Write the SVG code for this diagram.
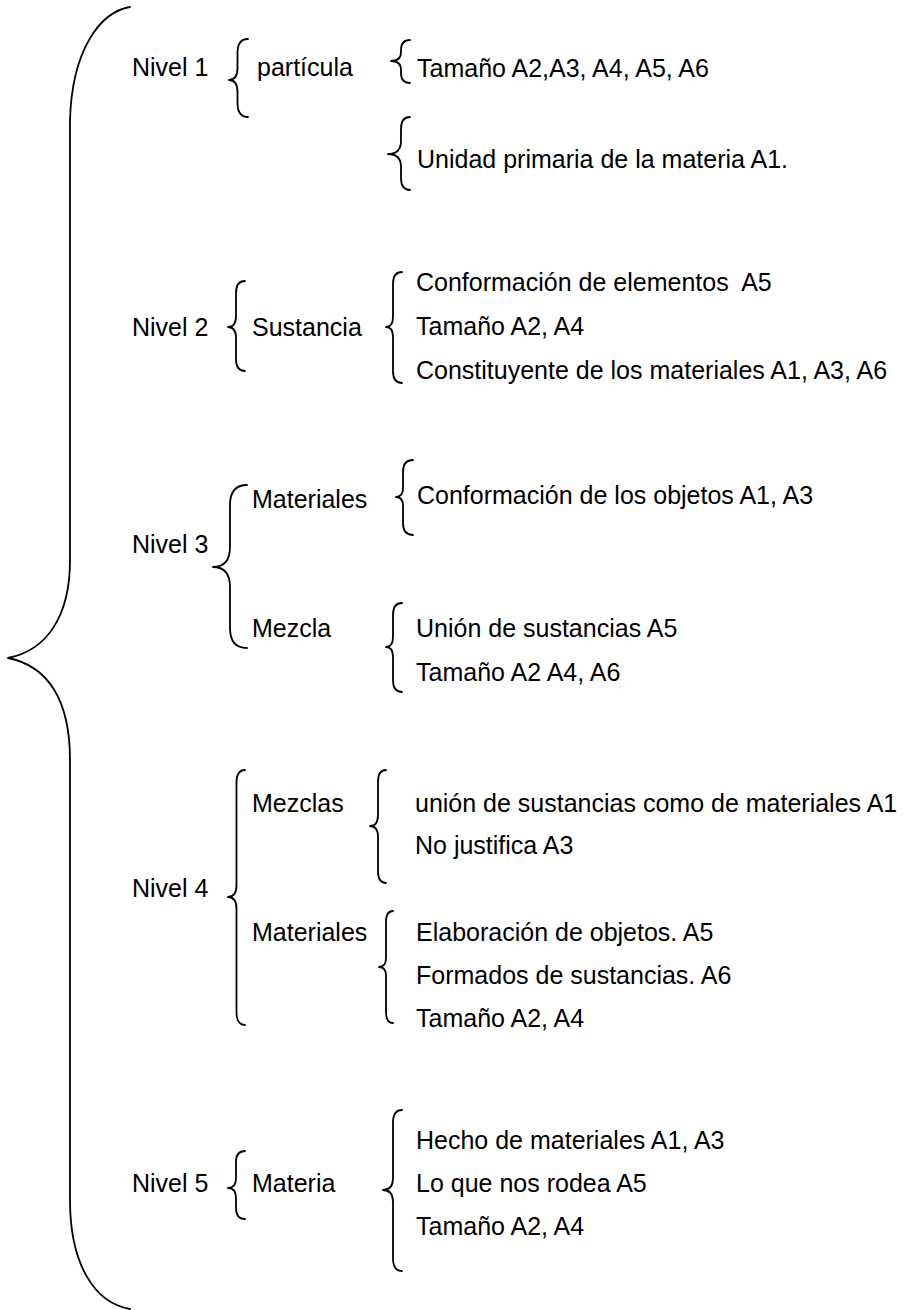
<svg xmlns="http://www.w3.org/2000/svg" width="904" height="1310" viewBox="0 0 904 1310">
<style>
text{font-family:"Liberation Sans",Arial,sans-serif;font-size:25px;fill:#000;white-space:pre}
.b{fill:none;stroke:#000;stroke-width:1.8;stroke-linecap:round;stroke-linejoin:round}
</style>
<rect width="904" height="1310" fill="#fff"/>
<g id="connectors">
<path class="b" d="M130,7 C100,12 72,50 70,120 L70,560 C70,615 48,650 8,658 C48,666 70,700 70,760 L70,1200 C70,1265 95,1303 130,1309"/>
<path class="b" d="M248,39 Q237.5,39 237.5,53 L237.5,68 Q237.5,80 229,80 Q237.5,80 237.5,92 L237.5,103 Q237.5,117 248,117"/>
<path class="b" d="M410,40 Q401,40 401,50 L401,52 Q401,61 391,61 Q401,61 401,70 L401,73 Q401,83 410,83"/>
<path class="b" d="M410,117 Q401,117 401,129 L401,141 Q401,154 388,154 Q401,154 401,167 L401,178 Q401,190 410,190"/>
<path class="b" d="M245,281 Q236,281 236,293 L236,316 Q236,327 228,327 Q236,327 236,338 L236,359 Q236,371 245,371"/>
<path class="b" d="M402,272 Q393,272 393,284 L393,317 Q393,327 386,327 Q393,327 393,337 L393,371 Q393,383 402,383"/>
<path class="b" d="M247,485 Q230,485 230,505 L230,547 Q230,567 213,567 Q230,567 230,587 L230,628 Q230,648 247,648"/>
<path class="b" d="M413,460 Q403,460 403,472 L403,488 Q403,497 396,497 Q403,497 403,506 L403,523 Q403,535 413,535"/>
<path class="b" d="M402,603 Q393,603 393,615 L393,637 Q393,647 386,647 Q393,647 393,657 L393,680 Q393,692 402,692"/>
<path class="b" d="M245,770 Q236.5,770 236.5,783 L236.5,885 Q236.5,897 228,897 Q236.5,897 236.5,909 L236.5,1012 Q236.5,1025 245,1025"/>
<path class="b" d="M386,770 Q378,770 378,782 L378,815 Q378,826 370,826 Q378,826 378,837 L378,871 Q378,883 386,883"/>
<path class="b" d="M393,911 Q386,911 386,922 L386,958 Q386,967 379,967 Q386,967 386,976 L386,1012 Q386,1023 393,1023"/>
<path class="b" d="M245,1151 Q236,1151 236,1162 L236,1178 Q236,1188 228,1188 Q236,1188 236,1198 L236,1208 Q236,1219 245,1219"/>
<path class="b" d="M402,1110 Q393,1110 393,1123 L393,1178 Q393,1190 383,1190 Q393,1190 393,1202 L393,1258 Q393,1271 402,1271"/>
</g>
<g id="nivel1">
<text x="132" y="76">Nivel 1</text>
<g id="n1-particula"><text x="257" y="76">partícula</text></g>
<g id="n1-tamano"><text x="417" y="77">Tamaño A2,A3, A4, A5, A6</text></g>
<g id="n1-unidad"><text x="417" y="168">Unidad primaria de la materia A1.</text></g>
</g>
<g id="nivel2">
<text x="132" y="336">Nivel 2</text>
<g id="n2-sustancia"><text x="252" y="336">Sustancia</text></g>
<g id="n2-items">
<text x="416" y="291">Conformación de elementos  A5</text>
<text x="416" y="335">Tamaño A2, A4</text>
<text x="416" y="379">Constituyente de los materiales A1, A3, A6</text>
</g>
</g>
<g id="nivel3">
<text x="132" y="553">Nivel 3</text>
<g id="n3-materiales"><text x="252" y="508">Materiales</text></g>
<g id="n3-materiales-items"><text x="417" y="504">Conformación de los objetos A1, A3</text></g>
<g id="n3-mezcla"><text x="252" y="637">Mezcla</text></g>
<g id="n3-mezcla-items">
<text x="416" y="637">Unión de sustancias A5</text>
<text x="416" y="681">Tamaño A2 A4, A6</text>
</g>
</g>
<g id="nivel4">
<text x="132" y="897">Nivel 4</text>
<g id="n4-mezclas"><text x="252" y="812">Mezclas</text></g>
<g id="n4-mezclas-items">
<text x="415" y="812">unión de sustancias como de materiales A1</text>
<text x="415" y="854">No justifica A3</text>
</g>
<g id="n4-materiales"><text x="252" y="941">Materiales</text></g>
<g id="n4-materiales-items">
<text x="416" y="941">Elaboración de objetos. A5</text>
<text x="416" y="984">Formados de sustancias. A6</text>
<text x="416" y="1027">Tamaño A2, A4</text>
</g>
</g>
<g id="nivel5">
<text x="132" y="1192">Nivel 5</text>
<g id="n5-materia"><text x="252" y="1192">Materia</text></g>
<g id="n5-items">
<text x="416" y="1149">Hecho de materiales A1, A3</text>
<text x="416" y="1192">Lo que nos rodea A5</text>
<text x="416" y="1235">Tamaño A2, A4</text>
</g>
</g>
</svg>
